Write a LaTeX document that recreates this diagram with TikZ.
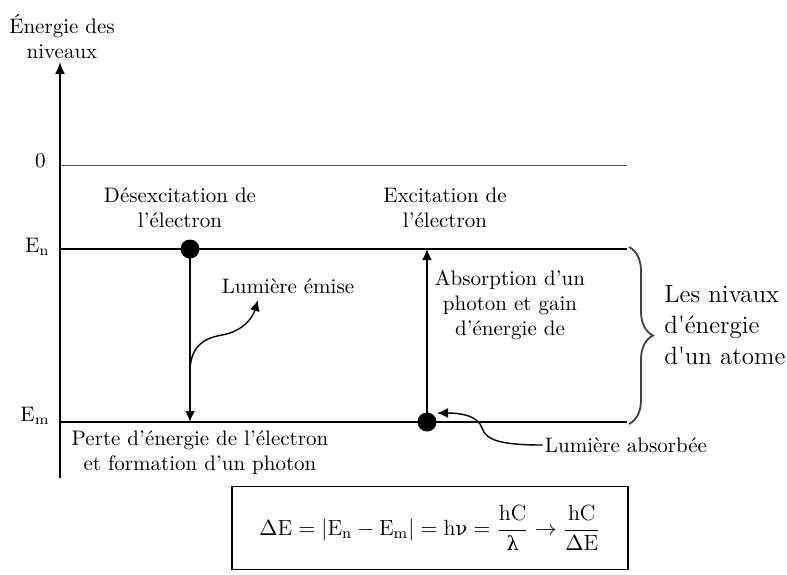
\documentclass[tikz,border=0pt]{standalone}
\usepackage{amsmath}
\usepackage{fontspec}
\usepackage{tikz}
\usetikzlibrary{arrows, arrows.meta, calc, positioning, decorations.pathreplacing}
\newfontfamily\grk[Scale=0.88]{DejaVu Serif}
\tikzset{
	every node/.style={
		font=\fontsize{10.5}{12.5}\selectfont
	},
	etiquette/.style={
		align=center,
		inner sep=1pt
	},
	axe/.style={
		-{Latex[length=6pt, width=5pt]},
		line width=0.9pt
	},
	niveau/.style={
		line width=0.9pt
	},
	zero/.style={
		line width=0.5pt,
		draw=black!70
	},
	electron/.style={
		shape=circle,
		fill=black,
		minimum size=9.5pt,
		inner sep=0pt
	},
	transition/.style={
		-{Latex[length=5.5pt, width=5pt]},
		line width=0.9pt
	},
	lumiere/.style={
		-{Latex[length=5.5pt, width=5pt]},
		line width=0.7pt
	},
	accolade/.style={
		decorate,
		decoration={brace, amplitude=12pt},
		line width=0.9pt,
		draw=black!75
	},
	formule/.style={
		shape=rectangle,
		draw,
		line width=0.8pt,
		minimum width=198pt,
		minimum height=41.5pt,
		font=\fontsize{11}{13}\selectfont
	}
}

\begin{document}
\begin{tikzpicture}[x=0.5pt, y=-0.5pt]
	
	\useasboundingbox (0,0) rectangle (787,574);
	
	% axe des energies
	\coordinate (bas) at (60,478);
	\coordinate (haut) at (60,62);
	\draw[axe] (bas) -- (haut);
	\node[etiquette] (titre) at (62,37) {Énergie des\\niveaux};
	
	% niveaux
	\coordinate (z0) at (60,165);
	\coordinate (z1) at (627,165);
	\coordinate (n0) at (60,249);
	\coordinate (n1) at (627,249);
	\coordinate (m0) at (60,422);
	\coordinate (m1) at (627,422);
	\draw[zero] (z0) -- (z1);
	\draw[niveau] (n0) -- (n1);
	\draw[niveau] (m0) -- (m1);
	\node[etiquette, left=6pt of z0, yshift=2pt] (lzero) {0};
	\node[etiquette, left=4pt of n0, yshift=1pt] (lEn) {E$_\mathrm{n}$};
	\node[etiquette, left=4pt of m0, yshift=3pt] (lEm) {E$_\mathrm{m}$};
	
	% desexcitation
	\node[electron] (e1) at (190,249) {};
	\coordinate (e1bas) at (190,422);
	\draw[transition] (e1.center) -- (e1bas);
	\node[etiquette] (desex) at (180,208) {Désexcitation de\\l’électron};
	\node[etiquette] (perte) at (200,453) {Perte d’énergie de l’électron\\et formation d’un photon};
	\node[etiquette] (emise) at (288,286) {Lumière émise};
	\coordinate (ph1) at (190,370);
	\coordinate (ph1fin) at (258,300);
	\draw[lumiere] (ph1) .. controls (191,345) and (205,338) .. (222,335)
		.. controls (240,332) and (252,320) .. (ph1fin);
	
	% excitation
	\node[electron] (e2) at (427,422) {};
	\coordinate (e2haut) at (427,249);
	\draw[transition] (e2.center) -- (e2haut);
	\node[etiquette] (excit) at (445,208) {Excitation de\\l’électron};
	\node[etiquette] (absorp) at (510,305) {Absorption d’un\\photon et gain\\d’énergie de};
	\node[etiquette] (absorbee) at (626,445) {Lumière absorbée};
	\coordinate (ph2fin) at (437,413);
	\draw[lumiere] (absorbee.west) .. controls (500,445) and (486,440) .. (482,428)
		.. controls (478,416) and (462,413) .. (ph2fin);
	
	% accolade
	\coordinate (a0) at (629,247);
	\coordinate (a1) at (629,424);
	\draw[accolade] (a0) -- (a1);
	\node[align=left, anchor=west, inner sep=0pt, font=\fontsize{12.5}{15.3}\selectfont] (atome) at (664,325) {Les nivaux\\d\textquotesingle énergie\\d\textquotesingle un atome};
	
	% formule
	\node[formule] (relation) at (430,528) {$\Delta\mathrm{E}=|\mathrm{E_n}-\mathrm{E_m}|=\mathrm{h}\text{\grk ν}=\dfrac{\mathrm{hC}}{\text{\grk λ}}\rightarrow\dfrac{\mathrm{hC}}{\Delta\mathrm{E}}$};
	
\end{tikzpicture}
\end{document}
